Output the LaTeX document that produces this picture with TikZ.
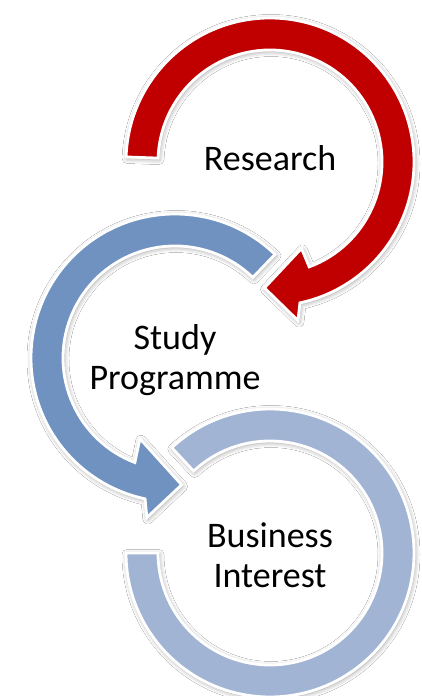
\documentclass[tikz,border=0pt]{standalone}
\usepackage{fontspec}
\setmainfont{Carlito}
\usetikzlibrary{shadows.blur}
\definecolor{rsred}{RGB}{192,0,0}
\definecolor{spblue}{RGB}{112,146,192}
\definecolor{bilight}{RGB}{161,180,212}
\begin{document}
\begin{tikzpicture}[x=1pt,y=1pt,
  arcshape/.style={draw=white, line width=2.8pt, line join=miter,
    blur shadow={shadow xshift=1pt, shadow yshift=-1.5pt, shadow blur radius=5pt, shadow opacity=40}},
  lbl/.style={font=\fontsize{36}{40}\selectfont, align=center, inner sep=0pt, text=black}]
\fill[white] (0,0) rectangle (421,696);
\useasboundingbox (0,0) rectangle (421,696);
% Business Interest ring
\begin{scope}[shift={(270,143)}]
\path[arcshape, fill=bilight] (180:144pt) arc[start angle=180, end angle=493, radius=144pt]
  -- (493:112pt) arc[start angle=493, end angle=180, radius=112pt] -- cycle;
\end{scope}
% Study Programme arrow
\begin{scope}[shift={(175,338)}]
\path[arcshape, fill=spblue] (46:144pt) arc[start angle=46, end angle=258, radius=144pt]
  -- (260:162pt) -- (273:127pt) -- (246.5:88pt) -- (249:112pt)
  arc[start angle=249, end angle=46, radius=112pt] -- cycle;
\end{scope}
% Research arrow
\begin{scope}[shift={(270,534)}]
\path[arcshape, fill=rsred] (178:144pt) arc[start angle=178, end angle=-78, radius=144pt]
  -- (-80:161pt) -- (-92.5:126pt) -- (-70:92pt) -- (-69.5:112pt)
  arc[start angle=-69.5, end angle=178, radius=112pt] -- cycle;
\end{scope}
\node[lbl, anchor=base] (research) at (270,525) {Research};
\node[lbl] (study) at (175,335.5) {Study\\Programme};
\node[lbl] (business) at (270,140.5) {Business\\Interest};
\end{tikzpicture}
\end{document}
